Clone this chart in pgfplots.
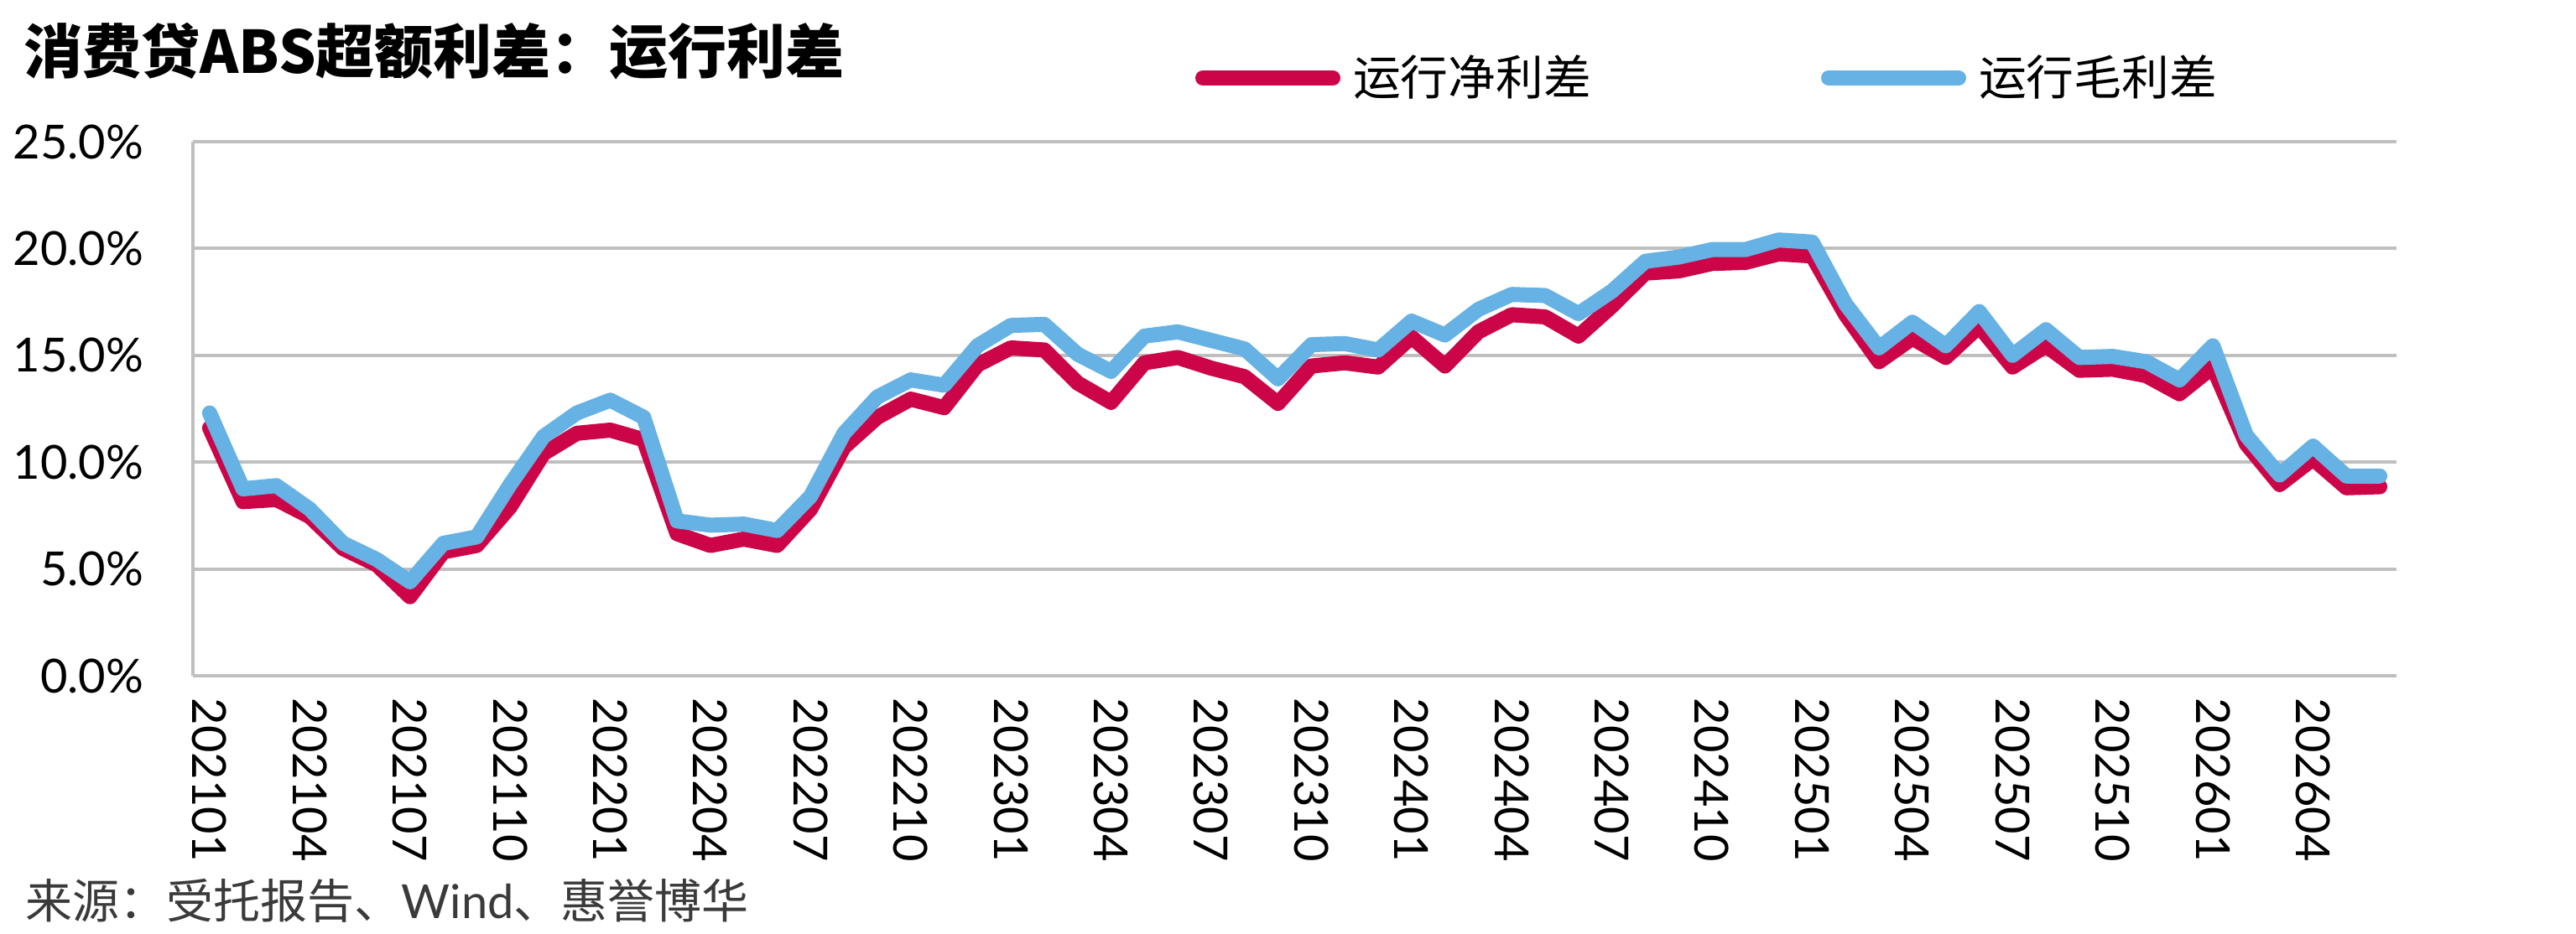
\documentclass[border=0pt]{standalone}
\usepackage{fontspec}
\setmainfont{Lato}
\newfontfamily\cjk{Noto Sans CJK SC}
\usepackage{pgfplots}
\usepackage{pgfplotstable}
\pgfplotsset{compat=1.18}
\definecolor{netred}{HTML}{CC0549}
\definecolor{grossblue}{HTML}{66B2E4}
\definecolor{gridgray}{HTML}{BFBFBF}
\definecolor{srcgray}{HTML}{3A3A3A}
\pgfplotstableread{
x net gross
0 11.6 12.3
1 8.15 8.75
2 8.25 8.9
3 7.45 7.8
4 5.95 6.2
5 5.2 5.45
6 3.7 4.4
7 5.8 6.2
8 6.1 6.5
9 7.9 8.95
10 10.4 11.2
11 11.35 12.3
12 11.5 12.9
13 11.05 12.1
14 6.65 7.25
15 6.1 7.05
16 6.4 7.1
17 6.1 6.8
18 7.8 8.4
19 10.7 11.35
20 12.1 13.05
21 12.95 13.85
22 12.55 13.6
23 14.55 15.45
24 15.35 16.4
25 15.25 16.45
26 13.7 15.05
27 12.8 14.25
28 14.65 15.9
29 14.9 16.1
30 14.4 15.7
31 14.0 15.3
32 12.75 13.9
33 14.5 15.5
34 14.65 15.55
35 14.45 15.25
36 15.85 16.6
37 14.5 15.95
38 16.1 17.15
39 16.9 17.85
40 16.8 17.8
41 15.9 16.95
42 17.3 18.0
43 18.85 19.4
44 18.95 19.6
45 19.3 19.95
46 19.35 19.95
47 19.75 20.4
48 19.65 20.3
49 16.9 17.4
50 14.7 15.35
51 15.8 16.55
52 14.9 15.45
53 16.35 17.05
54 14.45 15.0
55 15.45 16.2
56 14.3 14.9
57 14.35 14.95
58 14.05 14.7
59 13.2 13.85
60 14.45 15.45
61 10.85 11.25
62 8.95 9.4
63 10.15 10.75
64 8.8 9.35
65 8.85 9.35
}\datatable
\begin{document}
\begin{tikzpicture}
\path[use as bounding box] (0,0) rectangle (767.75pt,-278.25pt);
\begin{axis}[
  at={(57.5pt,-201.5pt)}, anchor=south west,
  scale only axis, width=656.75pt, height=159.25pt,
  xmin=-0.5, xmax=65.5, ymin=0, ymax=25,
  ytick={0,5,...,25},
  xtick={0,3,...,63},
  xticklabels={202101,202104,202107,202110,202201,202204,202207,202210,202301,202304,202307,202310,202401,202404,202407,202410,202501,202504,202507,202510,202601,202604},
  axis x line=bottom, axis y line=left,
  axis line style={draw=gridgray, line width=1pt, -},
  major tick length=0pt,
  ymajorgrids, grid style={gridgray, line width=1pt},
  /pgf/number format/assume math mode=true,
  yticklabel={\pgfmathprintnumber[fixed,fixed zerofill,precision=1]{\tick}\%},
  ticklabel style={font=\fontsize{14}{16}\selectfont, inner sep=0pt},
  yticklabel shift=14.5pt,
  xticklabel style={rotate=-90, anchor=west},
  xticklabel shift=6.5pt,
  legend columns=2,
  legend style={at={(0.4549,1.1193)}, anchor=west, draw=none, fill=none,
    inner sep=0pt, outer sep=0pt,
    font=\cjk\fontsize{14.2}{17}\selectfont,
    nodes={inner sep=0pt},
    /tikz/every odd column/.append style={column sep=3.75pt},
    /tikz/every even column/.append style={column sep=68.5pt}},
  legend image code/.code={\draw[#1, line cap=round] (0pt,0pt) -- (38.75pt,0pt);},
]
\addplot[netred, line width=4.5pt, line join=round, line cap=round] table[x=x, y=net] {\datatable};
\addlegendentry{运行净利差}
\addplot[grossblue, line width=4.5pt, line join=round, line cap=round] table[x=x, y=gross] {\datatable};
\addlegendentry{运行毛利差}
\end{axis}
\node[anchor=west, inner sep=0pt, font=\cjk\bfseries\fontsize{17.5}{20}\selectfont] at (7pt,-15.25pt) {消费贷ABS超额利差：运行利差};
\node[anchor=west, inner sep=0pt, text=srcgray, font=\fontsize{14}{16}\selectfont] at (7.5pt,-268.5pt) {{\cjk 来源：受托报告、}Wind{\cjk 、惠誉博华}};
\end{tikzpicture}
\end{document}
